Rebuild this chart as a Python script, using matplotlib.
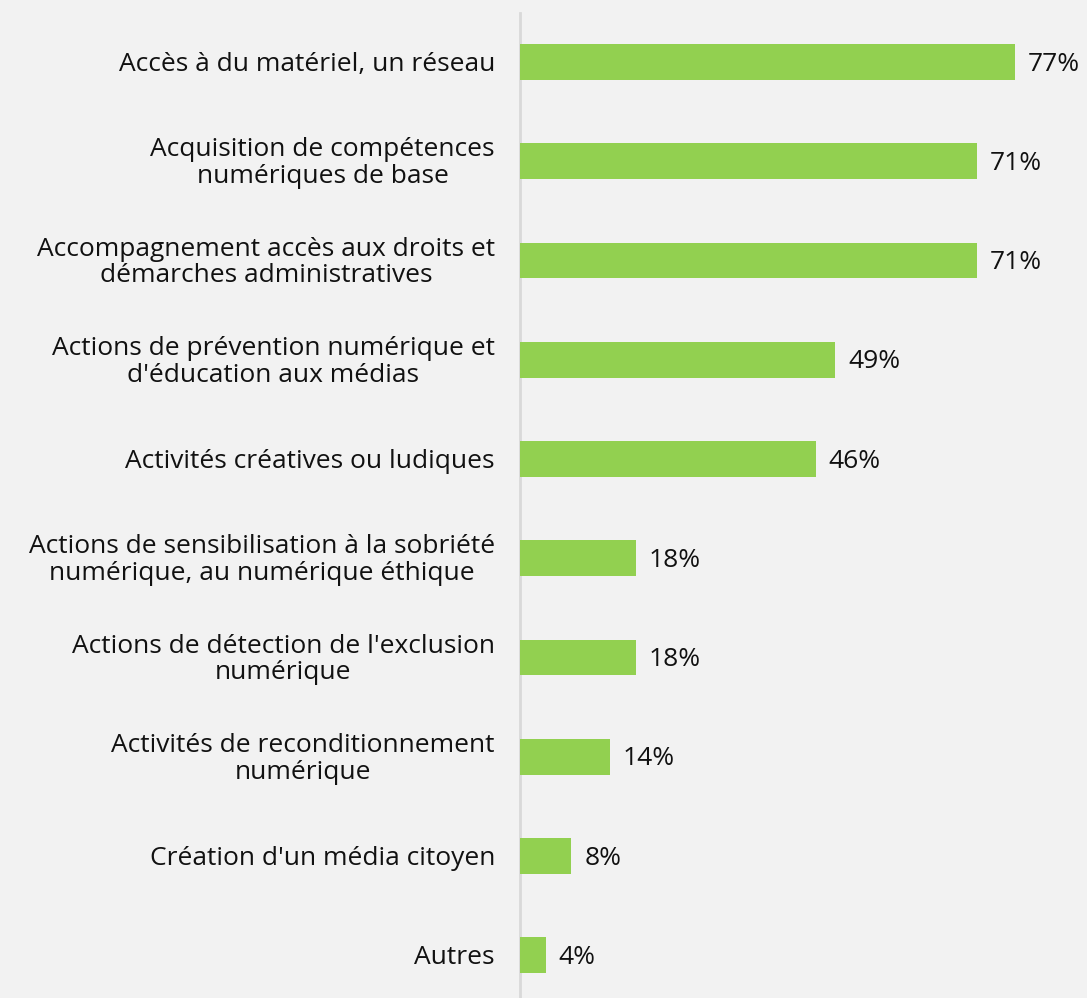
import matplotlib
matplotlib.use('Agg')
import matplotlib.pyplot as plt

categories = [
    "Accès à du matériel, un réseau",
    "Acquisition de compétences\nnumériques de base",
    "Accompagnement accès aux droits et\ndémarches administratives",
    "Actions de prévention numérique et\nd'éducation aux médias",
    "Activités créatives ou ludiques",
    "Actions de sensibilisation à la sobriété\nnumérique, au numérique éthique",
    "Actions de détection de l'exclusion\nnumérique",
    "Activités de reconditionnement\nnumérique",
    "Création d'un média citoyen",
    "Autres",
]
values = [77, 71, 71, 49, 46, 18, 18, 14, 8, 4]

bg = '#f2f2f2'
plt.rcParams['font.family'] = ['Open Sans', 'DejaVu Sans']

fig = plt.figure(figsize=(10.87, 9.98), dpi=100, facecolor=bg)
ax = fig.add_axes([520 / 1087, 0, 567 / 1087, 985 / 998], facecolor=bg)

pos = list(range(len(values)))
ax.barh(pos, values, height=0.36, color='#92d050', zorder=1)
ax.set_xlim(0, 567 / 6.43)
ax.set_ylim(9.43, -0.494)

for p, v in zip(pos, values):
    ax.text(v + 2.0, p + 0.02, f"{v}%", va='center', ha='left', fontsize=19, color='#111111')
for p, c in zip(pos, categories):
    ax.text(-3.9, p + 0.02, c, va='center', ha='right', multialignment='center',
            fontsize=19, color='#111111', linespacing=1.1)

ax.set_xticks([])
ax.set_yticks([])
for s in ['top', 'right', 'bottom']:
    ax.spines[s].set_visible(False)
ax.spines['left'].set_color('#d9d9d9')
ax.spines['left'].set_linewidth(2)
ax.spines['left'].set_zorder(0)

fig.savefig('out.png', dpi=100, facecolor=bg)
